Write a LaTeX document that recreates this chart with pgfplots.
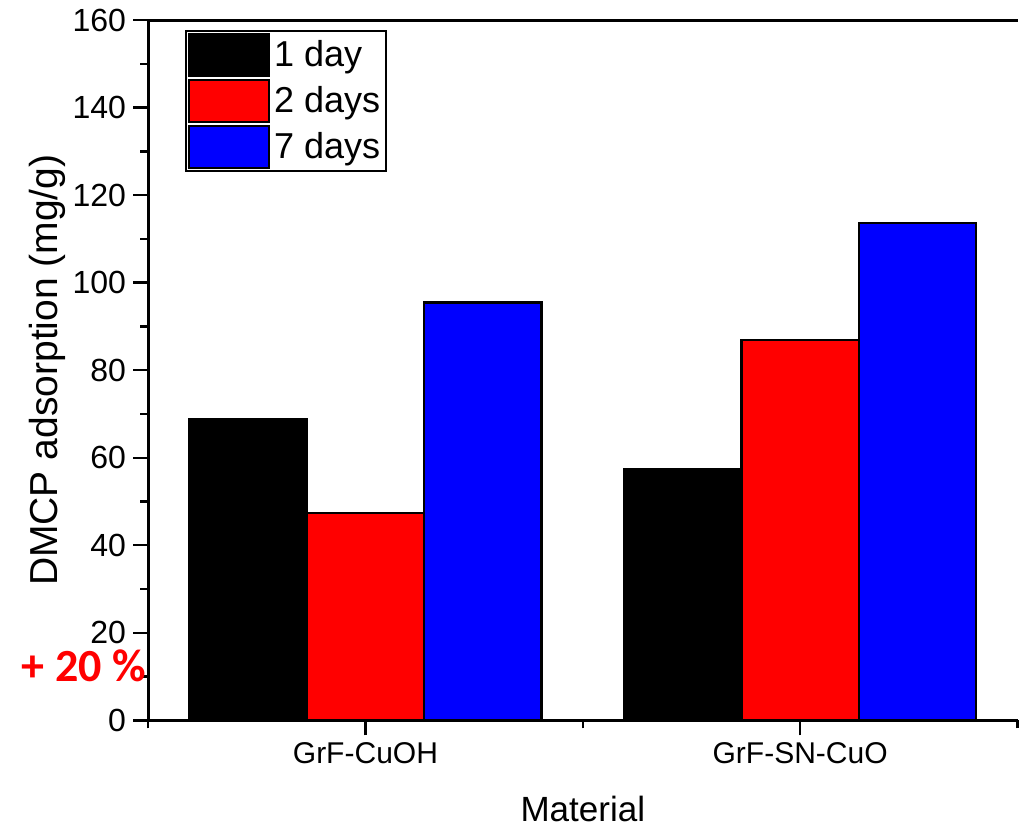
\documentclass[border=0pt]{standalone}
\usepackage{pgfplots}
\pgfplotsset{compat=1.18}
\usepackage{fontspec}
\setmainfont{Liberation Sans}
\newfontfamily\calfont{Carlito}[BoldFont={Carlito Bold}]
\begin{document}
\begin{tikzpicture}
\begin{axis}[
    scale only axis,
    width=434.5pt, height=350pt,
    xmin=0.5, xmax=2.5, ymin=0, ymax=160,
    ybar=0pt, bar width=0.27,
    separate axis lines,
    axis x line*=box, axis y line*=left,
    axis line style={line width=1.5pt},
    xtick={1,2}, xticklabels={GrF-CuOH, GrF-SN-CuO},
    extra x ticks={0.5,1.5,2.5}, extra x tick labels={},
    extra x tick style={major tick length=4pt},
    xtick pos=bottom, ytick pos=left,
    ytick={0,20,...,160}, minor y tick num=1,
    tick align=outside,
    major tick length=7.5pt, minor tick length=4pt,
    every tick/.style={black, line width=1.2pt},
    /pgf/number format/assume math mode=true,
    yticklabel style={font=\fontsize{16}{19}\selectfont},
    xticklabel style={font=\fontsize{15}{18}\selectfont},
    xlabel={Material}, ylabel={DMCP adsorption (mg/g)},
    every axis y label/.style={at={(rel axis cs:0,0.5)}, xshift=-50.5pt, rotate=90, anchor=center,
        font=\fontsize{19.5}{23}\selectfont},
    every axis x label/.style={at={(rel axis cs:0.5,0)}, yshift=-44.5pt, anchor=center,
        font=\fontsize{17.5}{21}\selectfont},
    legend style={at={(rel axis cs:0,1)}, anchor=north west, xshift=18.5pt, yshift=-5pt,
        draw=black, line width=1pt, inner sep=1pt, row sep=1pt,
        font=\fontsize{18}{21}\selectfont, cells={anchor=west}},
    legend image code/.code={\draw[#1, line width=1pt] (0pt,-10.5pt) rectangle (40pt,10.5pt);},
    clip=false,
]
\addplot[fill=black, draw=black, line width=1.2pt] coordinates {(1,68.7) (2,57.4)};
\addplot[fill=red, draw=black, line width=1.2pt] coordinates {(1,47.4) (2,86.9)};
\addplot[fill=blue, draw=black, line width=1.2pt] coordinates {(1,95.5) (2,113.6)};
\legend{1 day, 2 days, 7 days}
\node[anchor=east, text=red, font=\calfont\bfseries\fontsize{23}{27}\selectfont, inner sep=0pt] at (rel axis cs:-0.002,0.078) {+ 20 \%};
\coordinate (bl) at (rel axis cs:0,0);
\coordinate (tr) at (rel axis cs:1,1);
\end{axis}
\pgfresetboundingbox
\useasboundingbox ([shift={(-74pt,-52.5pt)}]bl) rectangle ([shift={(0.75pt,10pt)}]tr);
\end{tikzpicture}
\end{document}
